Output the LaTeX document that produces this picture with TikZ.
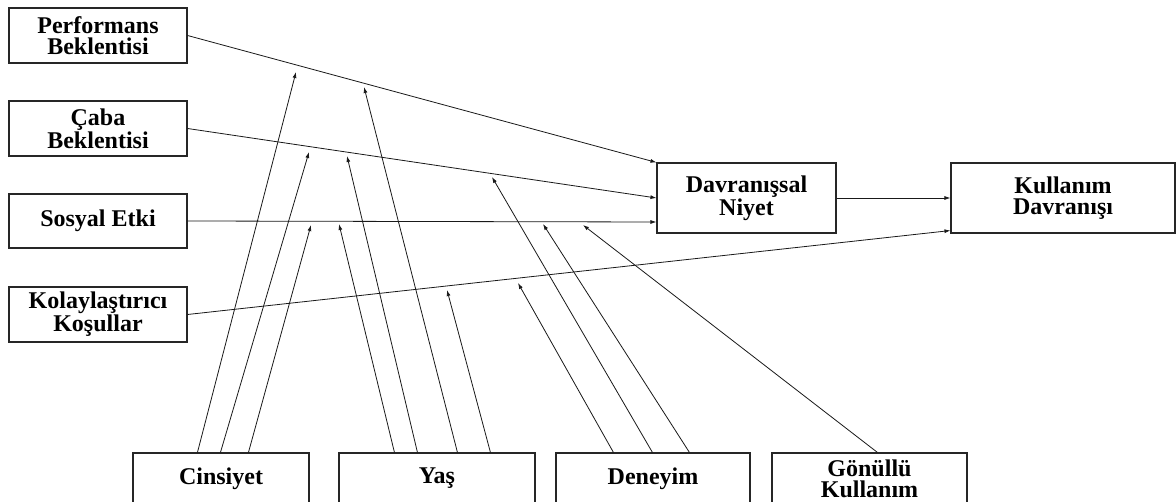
\documentclass[tikz,border=0pt]{standalone}
\usepackage{fontspec}
\setmainfont{Liberation Serif}
\usetikzlibrary{arrows.meta,calc}
\begin{document}
\begin{tikzpicture}[x=1pt,y=-1pt,
  box/.style={draw=black!85,line width=1.1pt,rectangle,inner sep=0pt,align=center,
    font=\bfseries\fontsize{24}{21}\selectfont},
  arr/.style={draw=black!90,line width=0.8pt,-{Latex[length=6pt,width=4pt]}}]
\useasboundingbox (0,0) rectangle (1176,502);
\fill[white] (0,0) rectangle (1176,502);
\begin{scope}
\clip (0,0) rectangle (1176,502);
% predictor constructs
\node[box,minimum width=178pt,minimum height=55pt] (pe) at (98,35.5) {Performans\\Beklentisi};
\node[box,minimum width=178pt,minimum height=55pt] (cb) at (98,128.5) {Çaba\\Beklentisi};
\node[box,minimum width=178pt,minimum height=54pt] (se) at (98,221) {Sosyal Etki};
\node[box,minimum width=178pt,minimum height=55pt] (kk) at (98,314.5) {Kolaylaştırıcı\\Koşullar};
% outcome constructs
\node[box,minimum width=179pt,minimum height=70pt] (dn) at (746.5,198) {Davranışsal\\Niyet};
\node[box,minimum width=224pt,minimum height=70pt] (kd) at (1063,198) {Kullanım\\Davranışı};
% moderators
\node[box,minimum width=176pt,minimum height=51pt] (ci) at (221,478.5) {Cinsiyet};
\node[box,minimum width=196pt,minimum height=51pt] (ya) at (437,478.5) {Yaş};
\node[box,minimum width=194pt,minimum height=51pt] (de) at (653,478.5) {Deneyim};
\node[box,minimum width=195pt,minimum height=51pt] (gk) at (869.5,478.5) {Gönüllü\\Kullanım};

% main paths
\draw[arr] (pe.east) -- (dn.north west);
\draw[arr] (cb.east) -- (dn.west);
\draw[arr] (se.east) -- ($(dn.west)+(0,24)$);
\draw[arr] (kk.east) -- ($(kd.south west)+(0,-3)$);
\draw[arr] (dn.east) -- (kd.west);

% moderation targets on the main paths
\coordinate (c1) at (296,72);
\coordinate (c2) at (309,152);
\coordinate (c3) at (311,225);
\coordinate (y1) at (339,224);
\coordinate (y2) at (347,156);
\coordinate (y3) at (364,87);
\coordinate (y4) at (447,290);
\coordinate (d1) at (518,283);
\coordinate (d2) at (492,177);
\coordinate (d3) at (543,224);
\coordinate (g1) at (583,225);

% gender
\draw[arr] ([xshift=65pt]ci.north west) -- (c1);
\draw[arr] ([xshift=88pt]ci.north west) -- (c2);
\draw[arr] ([xshift=116pt]ci.north west) -- (c3);
% age
\draw[arr] ([xshift=56pt]ya.north west) -- (y1);
\draw[arr] ([xshift=79pt]ya.north west) -- (y2);
\draw[arr] ([xshift=119pt]ya.north west) -- (y3);
\draw[arr] ([xshift=152pt]ya.north west) -- (y4);
% experience
\draw[arr] ([xshift=58pt]de.north west) -- (d1);
\draw[arr] ([xshift=97pt]de.north west) -- (d2);
\draw[arr] ([xshift=134pt]de.north west) -- (d3);
% voluntariness
\draw[arr] ([xshift=106pt]gk.north west) -- (g1);
\end{scope}
\end{tikzpicture}
\end{document}
